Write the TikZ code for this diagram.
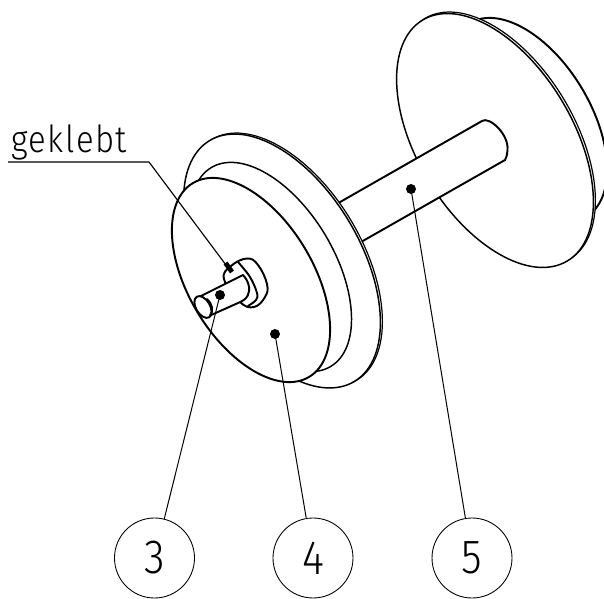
\documentclass[tikz,border=0pt]{standalone}
\usepackage{fontspec}
\setmainfont[FakeStretch=.88,LetterSpace=4]{Fira Sans Light}
\newfontfamily\digitfont[FakeStretch=.88]{Fira Sans Light}
\tikzset{
  thickline/.style={line width=1.45pt,black,line join=round,line cap=round},
  thinline/.style={line width=.75pt,black},
  solid white/.style={thickline,fill=white},
  balloon/.style={circle,draw=black,line width=.65pt,minimum size=60pt,inner sep=0pt,font=\digitfont\fontsize{36}{36}\selectfont},
  dotmark/.style={circle,fill=black,inner sep=0pt,minimum size=7.5pt},
}
\newcommand{\tiltell}[5][solid white]{\draw[#1,rotate around={-59:(#2,#3)}] (#2,#3) ellipse [x radius=#4,y radius=#5];}
\begin{document}
\begin{tikzpicture}[x=.75pt,y=-.75pt]
\useasboundingbox (0,0) rectangle (604,599);
\clip (0,0) rectangle (604,599);
% right wheel
\tiltell{528}{120}{113}{62.5}
\tiltell[solid white,line width=.9pt]{497}{139}{140.5}{77.8}
\tiltell[solid white,line width=1.1pt]{495}{140.5}{140.5}{77.8}
% axle
\draw[solid white] (320,213.5) -- (482,121) .. controls (489,116) and (509,134) .. (507.5,150) .. controls (507,155) and (506.5,158) .. (505,160) -- (340,254);
% left wheel
\tiltell[solid white,line width=.9pt]{284}{260}{140.5}{77.8}
\tiltell[solid white,line width=1.1pt]{282}{261}{140.5}{77.8}
\tiltell[solid white,line width=1.1pt]{271}{267}{116}{63}
\tiltell{251}{280}{113}{62.5}
% collar
\draw[solid white] plot[smooth cycle,tension=.7] coordinates {(224,279) (231,266) (247,258.5) (258,265) (267,284) (265,297) (254,307) (240,302)};
\draw[thickline] plot[smooth,tension=.6] coordinates {(238,262) (250,277) (257,293) (256,300) (248,306)};
% pin
\draw[solid white] (197,298) -- (243,275) .. controls (248,280) and (251,289) .. (248,295) .. controls (246,299) and (243,301) .. (238,303) -- (209,316);
\tiltell{203}{307}{12}{7}
\draw[thickline] (207,299) .. controls (212,303) and (214,311) .. (210,315.5);
% glue mark
\draw[line width=3.6pt,black] (225.5,263) -- (232,272);
% label
\node[anchor=base west,inner sep=0pt,font=\fontsize{28}{28}\selectfont] (glued) at (11,153) {geklebt};
\coordinate (ulstart) at (8,162);
\coordinate (ulend) at (149,162);
\coordinate (gluetip) at (226,265);
\draw[thinline,line width=.85pt] (ulstart) -- (ulend) -- (gluetip);
% balloons
\node[dotmark] (d3) at (220,295) {};
\node[dotmark] (d4) at (275,334) {};
\node[dotmark] (d5) at (411,189) {};
\node[balloon] (c3) at (154.5,558) {3};
\node[balloon] (c4) at (313,558) {4};
\node[balloon] (c5) at (472,558) {5};
\draw[thinline] (d3.center) -- (c3);
\draw[thinline] (d4.center) -- (c4);
\draw[thinline] (d5.center) -- (c5);
\end{tikzpicture}
\end{document}
